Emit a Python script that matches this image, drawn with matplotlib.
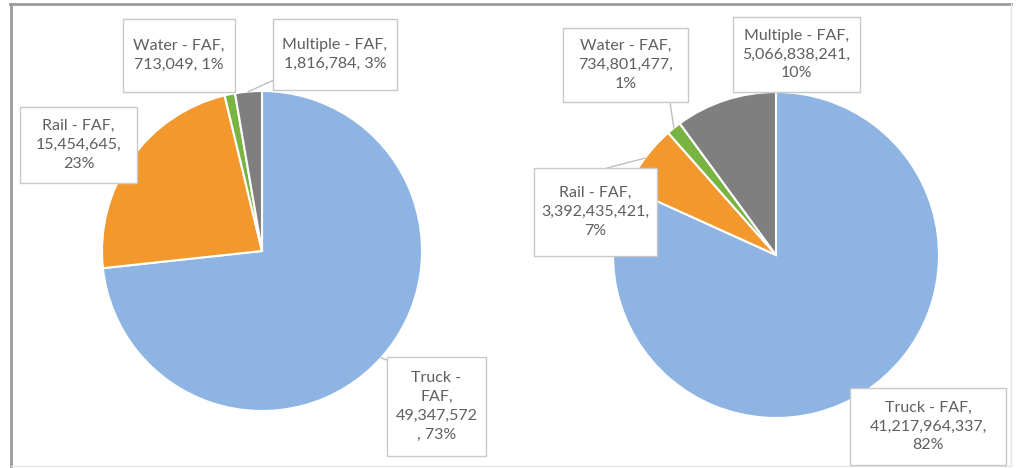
import matplotlib
matplotlib.use("Agg")
import matplotlib.pyplot as plt
import numpy as np
from matplotlib.patches import Rectangle
from matplotlib.lines import Line2D

# freight by mode, two FAF measures
modes = ["Truck", "Rail", "Water", "Multiple"]
left_values = [49347572, 15454645, 713049, 1816784]
right_values = [41217964337, 3392435421, 734801477, 5066838241]

colors = ["#8DB4E2", "#F2982C", "#79B443", "#7F7F7F"]
text_color = "#5F5F5F"
W, H = 1016, 468

plt.rcParams["font.family"] = ["Lato", "DejaVu Sans"]

fig = plt.figure(figsize=(W / 100, H / 100), dpi=100)

# outer frame
fig.add_artist(Line2D([10 / W, 1011 / W], [1 - 4 / H, 1 - 4 / H], color="#9A9A9A", lw=2))
fig.add_artist(Line2D([11 / W, 11 / W], [0, 1 - 4 / H], color="#9A9A9A", lw=2))
fig.add_artist(Line2D([1011 / W, 1011 / W], [2 / H, 1 - 4 / H], color="#E6E6E6", lw=1))
fig.add_artist(Line2D([11 / W, 1011 / W], [2 / H, 2 / H], color="#E6E6E6", lw=1))

# label layout per chart: format, box (x0, y0, x1, y1) in pixels, leader anchor or None
left_layout = {
    "Truck": ("{n} -\nFAF,\n{v:,}\n, {p}%", (387, 357, 486, 456), (387, 360)),
    "Rail": ("{n} - FAF,\n{v:,},\n{p}%", (20, 107, 137, 183), None),
    "Water": ("{n} - FAF,\n{v:,}, {p}%", (123, 19, 235, 92), None),
    "Multiple": ("{n} - FAF,\n{v:,}, {p}%", (273, 19, 397, 90), (274, 80)),
}
right_layout = {
    "Truck": ("{n} - FAF,\n{v:,},\n{p}%", (850, 388, 1006, 465), None),
    "Rail": ("{n} - FAF,\n{v:,},\n{p}%", (534, 168, 657, 256), (607, 168)),
    "Water": ("{n} - FAF,\n{v:,},\n{p}%", (563, 28, 688, 102), (670, 102)),
    "Multiple": ("{n} - FAF,\n{v:,},\n{p}%", (733, 17, 860, 92), None),
}


def px(x, y):
    return x / W, 1 - y / H


def draw_pie(values, center, radius, layout):
    cx, cy = center
    ax = fig.add_axes([(cx - radius) / W, (H - cy - radius) / H, 2 * radius / W, 2 * radius / H])
    wedges, _ = ax.pie(values, colors=colors, startangle=90, counterclock=False,
                       wedgeprops=dict(edgecolor="white", linewidth=1.5))
    ax.set_xlim(-1, 1)
    ax.set_ylim(-1, 1)
    ax.set_aspect("equal")
    ax.axis("off")

    total = sum(values)
    for name, val, w in zip(modes, values, wedges):
        fmt, box, anchor = layout[name]
        pct = round(100 * val / total)
        x0, y0, x1, y1 = box
        bx, by = px(x0, y1)
        fig.add_artist(Rectangle((bx, by), (x1 - x0) / W, (y1 - y0) / H,
                                 transform=fig.transFigure, fc="white", ec="#C8C8C8", lw=1, zorder=5))
        tx, ty = px((x0 + x1) / 2, (y0 + y1) / 2)
        fig.text(tx, ty, fmt.format(n=name, v=val, p=pct), ha="center", va="center",
                 color=text_color, fontsize=11.5, linespacing=1.45, zorder=6)
        if anchor is not None:
            mid = np.deg2rad((w.theta1 + w.theta2) / 2)
            rim = (cx + radius * np.cos(mid), cy - radius * np.sin(mid))
            ax_, ay_ = px(*anchor)
            rx, ry = px(*rim)
            fig.add_artist(Line2D([ax_, rx], [ay_, ry], color="#BFBFBF", lw=1, zorder=4))


draw_pie(left_values, (262, 251), 160, left_layout)
draw_pie(right_values, (776, 255), 163, right_layout)

fig.savefig("out.png", dpi=100, facecolor="white")
